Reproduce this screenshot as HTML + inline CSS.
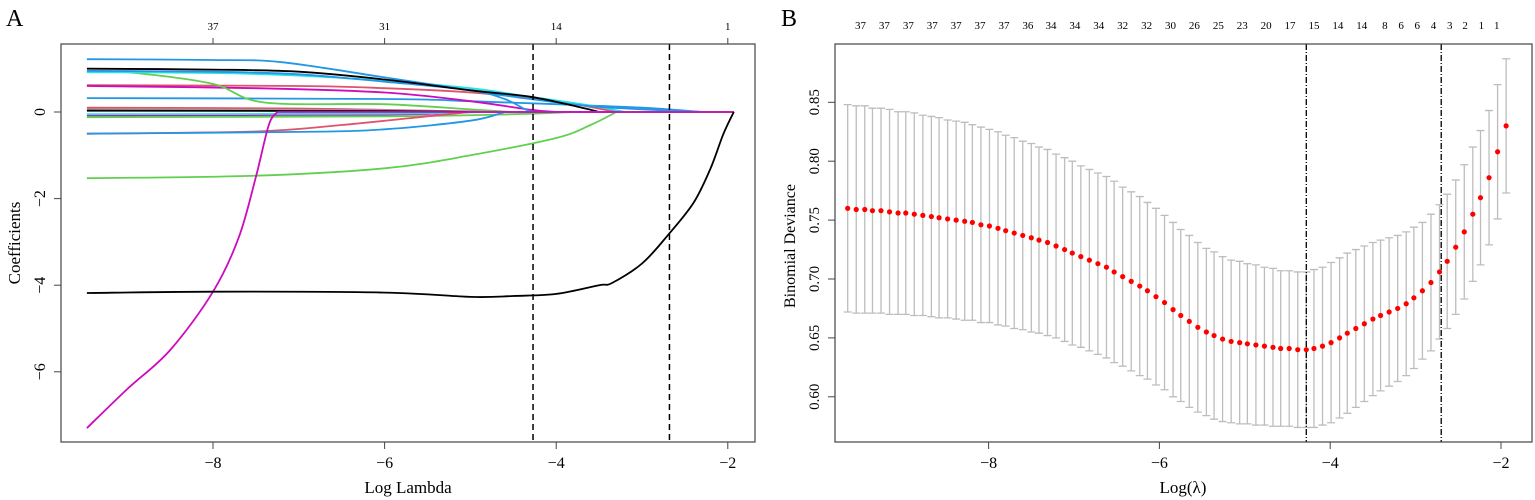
<!DOCTYPE html>
<html><head><meta charset="utf-8">
<style>
html,body{margin:0;padding:0;background:#fff;}
svg{display:block;font-family:"Liberation Serif",serif;}
</style></head>
<body>
<svg id="chart" width="1535" height="500" viewBox="0 0 1535 500" xmlns="http://www.w3.org/2000/svg">
<g id="panelA"></g>
<g id="panelB"></g>
</svg>
<script>
// ---------- Panel A data ----------
const aXTicks = [-8, -6, -4, -2];
const aYTicks = [0, -2, -4, -6];
const aTopTickLambdas = [-8, -6, -4, -2];
const aTopTickLabels = ["37", "31", "14", "1"];
const aVLines = [-4.27, -2.68];
const aLambdaEnd = -1.93;
const pathBlue1 = [[-9.47,1.22],[-8,1.2],[-7.2,1.15],[-6,0.8],[-5,0.5],[-4.3,0.3],[-3.5,0.12],[-2.3,0]];
const pathBlack1 = [[-9.47,1.0],[-8,0.98],[-7,0.93],[-6,0.75],[-5,0.5],[-4.3,0.35],[-3.7,0.1],[-3.5,0]];
const pathBlue2 = [[-9.47,0.95],[-8,0.93],[-7,0.87],[-6,0.7],[-5,0.5],[-4.6,0.3],[-4.35,0.05],[-4.25,0]];
const pathCyan1 = [[-9.47,0.92],[-8,0.9],[-7,0.84],[-6,0.72],[-5,0.55],[-4.3,0.35],[-3.6,0.15],[-3.2,0]];
const pathGreen1 = [[-9.47,0.95],[-8.9,0.9],[-8,0.65],[-7.4,0.22],[-6,0.18],[-5,0.06],[-4.5,0]];
const pathRed1 = [[-9.47,0.62],[-7,0.6],[-6,0.55],[-5,0.45],[-4,0.25],[-3.3,0]];
const pathMagenta1 = [[-9.47,0.6],[-7.5,0.55],[-6,0.45],[-5,0.25],[-4.3,0.05],[-4,0]];
const pathBlue3 = [[-9.47,0.32],[-6,0.3],[-5,0.25],[-4,0.18],[-3,0.1],[-2.3,0]];
const pathRed2 = [[-9.47,0.1],[-7,0.08],[-5.5,0.03],[-4.8,0]];
const pathGray1 = [[-9.47,0.06],[-6,0.04],[-5,0]];
const pathBlack2 = [[-9.47,0.03],[-6,0.02],[-4.5,0]];
const pathMagenta2 = [[-9.47,-0.08],[-6,-0.06],[-5,0]];
const pathGreen2 = [[-9.47,-0.12],[-6,-0.1],[-4.5,-0.05],[-3.8,0]];
const pathCyan2 = [[-9.47,-0.05],[-6,-0.04],[-4.8,0]];
const pathRed3 = [[-9.47,-0.5],[-7.5,-0.45],[-6.5,-0.3],[-5.5,-0.1],[-5,0]];
const pathBlue4 = [[-9.47,-0.5],[-7,-0.46],[-6,-0.4],[-5,-0.2],[-4.6,0]];
const pathGreen3 = [[-9.47,-1.53],[-7.5,-1.47],[-6,-1.3],[-5,-1.0],[-4,-0.6],[-3.6,-0.3],[-3.3,0]];
const pathBlack3 = [[-9.47,-4.18],[-8,-4.15],[-6,-4.17],[-5,-4.27],[-4.5,-4.25],[-4,-4.2],[-3.5,-4.0],[-3.35,-3.95],[-3,-3.5],[-2.7,-2.85],[-2.4,-2.1],[-2.2,-1.3],[-2.05,-0.5],[-1.93,0]];
const pathMagenta3 = [[-9.47,-7.3],[-9,-6.4],[-8.5,-5.5],[-8,-4.15],[-7.7,-2.9],[-7.5,-1.5],[-7.35,-0.3],[-7.25,0]];

// ---------- Panel B data ----------
const bLambda = [-9.65,-9.55,-9.45,-9.36,-9.26,-9.16,-9.06,-8.97,-8.87,-8.77,
-8.67,-8.58,-8.48,-8.38,-8.28,-8.19,-8.09,-7.99,-7.89,-7.80,
-7.70,-7.60,-7.50,-7.41,-7.31,-7.21,-7.11,-7.02,-6.92,-6.82,
-6.72,-6.62,-6.53,-6.43,-6.33,-6.23,-6.14,-6.04,-5.94,-5.84,
-5.75,-5.65,-5.55,-5.45,-5.36,-5.26,-5.16,-5.06,-4.97,-4.87,
-4.77,-4.67,-4.58,-4.48,-4.38,-4.28,-4.19,-4.09,-3.99,-3.89,
-3.80,-3.70,-3.60,-3.50,-3.41,-3.31,-3.21,-3.11,-3.02,-2.92,
-2.82,-2.72,-2.63,-2.53,-2.43,-2.33,-2.24,-2.14,-2.04,-1.94];
const bMean = [0.760,0.759,0.759,0.758,0.758,0.757,0.756,0.756,0.755,0.754,
0.753,0.752,0.751,0.750,0.749,0.748,0.746,0.745,0.743,0.741,
0.739,0.737,0.735,0.733,0.731,0.728,0.725,0.722,0.719,0.716,
0.713,0.710,0.706,0.702,0.698,0.694,0.690,0.685,0.680,0.674,
0.669,0.664,0.659,0.655,0.652,0.649,0.647,0.646,0.645,0.644,
0.643,0.642,0.641,0.641,0.640,0.640,0.641,0.643,0.646,0.650,
0.654,0.658,0.662,0.666,0.669,0.672,0.675,0.679,0.684,0.690,
0.697,0.706,0.715,0.727,0.740,0.755,0.769,0.786,0.808,0.830];
const bSE = [0.088,0.088,0.088,0.087,0.087,0.087,0.086,0.086,0.086,0.085,
0.085,0.085,0.084,0.084,0.084,0.083,0.083,0.082,0.082,0.081,
0.081,0.080,0.080,0.079,0.079,0.078,0.078,0.078,0.077,0.077,
0.077,0.077,0.077,0.076,0.076,0.076,0.075,0.075,0.074,0.074,
0.073,0.073,0.072,0.071,0.071,0.070,0.069,0.069,0.068,0.068,
0.067,0.067,0.066,0.066,0.066,0.066,0.067,0.067,0.068,0.068,
0.068,0.067,0.066,0.065,0.064,0.063,0.062,0.061,0.060,0.058,
0.058,0.057,0.057,0.057,0.057,0.057,0.057,0.057,0.057,0.057];
const bXTicks = [-8, -6, -4, -2];
const bYTicks = [0.60, 0.65, 0.70, 0.75, 0.80, 0.85];
const bYTickLabels = ["0.60","0.65","0.70","0.75","0.80","0.85"];
const bTopTickLambdas = [-9.50,-9.22,-8.94,-8.66,-8.38,-8.10,-7.82,-7.54,-7.27,-6.99,-6.71,-6.43,-6.15,-5.87,-5.59,-5.31,-5.03,-4.75,-4.47,-4.19,-3.91,-3.63,-3.36,-3.17,-2.98,-2.79,-2.60,-2.42,-2.23,-2.05];
const bTopTickLabels = ["37","37","37","37","37","37","37","36","34","34","34","32","32","30","26","25","23","20","17","15","14","14","8","6","6","4","3","2","1","1"];
const bVLines = [-4.28, -2.70];

const NS = "http://www.w3.org/2000/svg";
function mk(parent, tag, attrs, text) {
  const e = document.createElementNS(NS, tag);
  for (const k in attrs) e.setAttribute(k, attrs[k]);
  if (text !== undefined) e.textContent = text;
  parent.appendChild(e);
  return e;
}
function smoothPath(p) {
  // Catmull-Rom to cubic Bezier
  let d = `M${p[0][0].toFixed(1)},${p[0][1].toFixed(1)}`;
  for (let i = 0; i < p.length - 1; i++) {
    const p0 = p[i - 1] || p[i], p1 = p[i], p2 = p[i + 1], p3 = p[i + 2] || p2;
    const t = 6;
    const c1x = p1[0] + (p2[0] - p0[0]) / t, c1y = p1[1] + (p2[1] - p0[1]) / t;
    const c2x = p2[0] - (p3[0] - p1[0]) / t, c2y = p2[1] - (p3[1] - p1[1]) / t;
    d += `C${c1x.toFixed(1)},${c1y.toFixed(1)} ${c2x.toFixed(1)},${c2y.toFixed(1)} ${p2[0].toFixed(1)},${p2[1].toFixed(1)}`;
  }
  return d;
}

// ---------- Panel A ----------
(function(){
  const g = document.getElementById('panelA');
  const L = 61, R = 755, T = 44, B = 442;
  const xA = v => 213 + (v + 8) * 85.8;
  const yA = v => 112 - v * 43.3;
  const lbl = mk(g, 'text', {x: 6, y: 26, 'font-size': 24}, 'A');
  
  

  const paths = [
    [pathRed2,'#DF536B'],[pathGray1,'#9E9E9E'],[pathBlack2,'#000000'],[pathMagenta2,'#CD0BBC'],
    [pathGreen2,'#61D04F'],[pathCyan2,'#28E2E5'],
    [pathBlue3,'#2297E6'],[pathRed1,'#DF536B'],[pathMagenta1,'#CD0BBC'],[pathGreen1,'#61D04F'],
    [pathCyan1,'#28E2E5'],[pathBlue2,'#2297E6'],[pathBlue1,'#2297E6'],[pathBlack1,'#000000'],
    [pathRed3,'#DF536B'],[pathBlue4,'#2297E6'],[pathGreen3,'#61D04F'],
    [pathMagenta3,'#CD0BBC'],[pathBlack3,'#000000']
  ];
  const names = ['path-red-2','path-gray-1','path-black-2','path-magenta-2','path-green-2','path-cyan-2',
    'path-blue-3','path-red-1','path-magenta-1','path-green-1','path-cyan-1','path-blue-2','path-blue-1','path-black-1',
    'path-red-3','path-blue-4','path-green-3','path-magenta-3','path-black-3'];
  paths.forEach((p, i) => {
    const pts = p[0].map(d => [xA(d[0]), yA(d[1])]);
    let d = smoothPath(pts);
    const last = p[0][p[0].length - 1];
    if (last[0] < aLambdaEnd) d += `L${xA(aLambdaEnd).toFixed(1)},${yA(0).toFixed(1)}`;
    const pl = mk(g, 'path', {d: d, fill: 'none', stroke: p[1], 'stroke-width': 1.8, 'stroke-linejoin': 'round'});
    
    
  });

  aVLines.forEach((v, i) => {
    const l = mk(g, 'line', {x1: xA(v), x2: xA(v), y1: T, y2: B, stroke: '#000', 'stroke-width': 1.5, 'stroke-dasharray': '6,4'});
    
    
  });

  const box = mk(g, 'rect', {x: L, y: T, width: R - L, height: B - T, fill: 'none', stroke: '#444', 'stroke-width': 1.2});
  
  

  aXTicks.forEach(v => {
    const x = xA(v);
    mk(g, 'line', {x1: x, x2: x, y1: B, y2: B + 7, stroke: '#444'});
    const t = mk(g, 'text', {x: x, y: 468, 'font-size': 16, 'text-anchor': 'middle'}, '\u2212' + Math.abs(v));
    
    
  });
  aYTicks.forEach(v => {
    const y = yA(v);
    mk(g, 'line', {x1: L - 7, x2: L, y1: y, y2: y, stroke: '#444'});
    const t = mk(g, 'text', {x: 0, y: 0, 'font-size': 16, 'text-anchor': 'middle', transform: `translate(45,${y}) rotate(-90)`}, v === 0 ? '0' : '\u2212' + Math.abs(v));
    
    
  });
  aTopTickLambdas.forEach((v, i) => {
    const x = xA(v);
    mk(g, 'line', {x1: x, x2: x, y1: T - 6, y2: T, stroke: '#444'});
    const t = mk(g, 'text', {x: x, y: 30, 'font-size': 11, 'text-anchor': 'middle'}, aTopTickLabels[i]);
    
    
  });
  const xt = mk(g, 'text', {x: 408, y: 493, 'font-size': 17, 'text-anchor': 'middle'}, 'Log Lambda');
  
  
  const yt = mk(g, 'text', {x: 0, y: 0, 'font-size': 17, 'text-anchor': 'middle', transform: 'translate(20,243) rotate(-90)'}, 'Coefficients');
  
  
})();

// ---------- Panel B ----------
(function(){
  const g = document.getElementById('panelB');
  const L = 835, R = 1532, T = 44, B = 442;
  const xB = v => 988.6 + (v + 8) * 85.4;
  const yB = v => 102.3 + (0.85 - v) / 0.05 * 58.9;
  const lbl = mk(g, 'text', {x: 781, y: 26, 'font-size': 24}, 'B');
  
  

  bLambda.forEach((v, i) => {
    const x = xB(v), yu = yB(bMean[i] + bSE[i]), yl = yB(bMean[i] - bSE[i]);
    const eb = mk(g, 'path', {d: `M${x},${yu}V${yl}M${x-4},${yu}H${x+4}M${x-4},${yl}H${x+4}`, stroke: '#bdbdbd', 'stroke-width': 1.3, fill: 'none'});
    
    
  });
  bVLines.forEach((v, i) => {
    const l = mk(g, 'line', {x1: xB(v), x2: xB(v), y1: T, y2: B, stroke: '#000', 'stroke-width': 1.3, 'stroke-dasharray': '6,2,1,2'});
    
    
  });
  bLambda.forEach((v, i) => {
    const c = mk(g, 'circle', {cx: xB(v), cy: yB(bMean[i]), r: 2.6, fill: '#ff0000'});
    
    
  });
  const box = mk(g, 'rect', {x: L, y: T, width: R - L, height: B - T, fill: 'none', stroke: '#444', 'stroke-width': 1.2});
  
  

  bXTicks.forEach(v => {
    const x = xB(v);
    mk(g, 'line', {x1: x, x2: x, y1: B, y2: B + 7, stroke: '#444'});
    const t = mk(g, 'text', {x: x, y: 468, 'font-size': 16, 'text-anchor': 'middle'}, '\u2212' + Math.abs(v));
    
    
  });
  bYTicks.forEach((v, i) => {
    const y = yB(v);
    mk(g, 'line', {x1: L - 7, x2: L, y1: y, y2: y, stroke: '#444'});
    const t = mk(g, 'text', {x: 0, y: 0, 'font-size': 15, 'text-anchor': 'middle', transform: `translate(819,${y}) rotate(-90)`}, bYTickLabels[i]);
    
    
  });
  bTopTickLambdas.forEach((v, i) => {
    const t = mk(g, 'text', {x: xB(v), y: 29, 'font-size': 11, 'text-anchor': 'middle'}, bTopTickLabels[i]);
    
    
  });
  const xt = mk(g, 'text', {x: 1183, y: 493, 'font-size': 17, 'text-anchor': 'middle'}, 'Log(\u03BB)');
  
  
  const yt = mk(g, 'text', {x: 0, y: 0, 'font-size': 16, 'text-anchor': 'middle', transform: 'translate(795,246) rotate(-90)'}, 'Binomial Deviance');
  
  
})();
</script>
</body></html>
